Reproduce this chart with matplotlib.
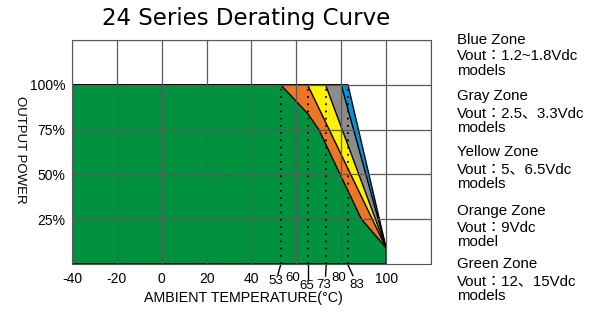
import matplotlib.pyplot as plt

plt.rcParams['font.family'] = ['Liberation Sans', 'Noto Sans CJK JP', 'DejaVu Sans']

# derating boundaries (ambient temp, % output power), from the 100% knee down
green_x = [53, 65, 70, 89, 100]
green_y = [100, 84, 75, 25, 9]
orange_x = [65, 100]
orange_y = [100, 9]
yellow_x = [73, 100]
yellow_y = [100, 9]
gray_x = [80, 100]
gray_y = [100, 9]
blue_x = [83, 100]
blue_y = [100, 9]

marks = [53, 65, 73, 83]
x_ticks = [-40, -20, 0, 20, 40, 60, 80, 100, 120]
x_labels = ['-40', '-20', '0', '20', '40', '', '', '100', '']
y_ticks = [25, 50, 75, 100, 125]
y_labels = ['25%', '50%', '75%', '100%', '']

zones = [
    ("Blue Zone", "Vout：1.2~1.8Vdc", "models"),
    ("Gray Zone", "Vout：2.5、3.3Vdc", "models"),
    ("Yellow Zone", "Vout：5、6.5Vdc", "models"),
    ("Orange Zone", "Vout：9Vdc", "model"),
    ("Green Zone", "Vout：12、15Vdc", "models"),
]

W, H = 597, 316
fig = plt.figure(figsize=(W / 100, H / 100), dpi=100)
ax = fig.add_axes([0.1206, 0.1646, 0.6013, 0.7089])

layers = [
    (blue_x, blue_y, '#0095da'),
    (gray_x, gray_y, '#8c8c8c'),
    (yellow_x, yellow_y, '#fff200'),
    (orange_x, orange_y, '#ee7623'),
    (green_x, green_y, '#00923f'),
]
for bx, by, col in layers:
    xs = [-40, -40] + bx + [bx[-1]]
    ys = [0, 100] + by + [0]
    ax.fill(xs, ys, facecolor=col, edgecolor='black', linewidth=1, zorder=2)

for m in marks:
    ax.plot([m, m], [0, 100], color='black', linestyle=(0, (1, 3)), lw=1.3, zorder=4)

ax.set_xlim(-40, 120)
ax.set_ylim(0, 125)
ax.set_xticks(x_ticks)
ax.set_xticklabels(x_labels, fontsize=10)
ax.set_yticks(y_ticks)
ax.set_yticklabels(y_labels, fontsize=10)
ax.tick_params(length=0, pad=6)
ax.tick_params(axis='y', pad=5)
ax.grid(True, color='#5a5a5a', lw=0.9, zorder=3)
ax.set_axisbelow(False)
for s in ax.spines.values():
    s.set_color('#555555')
    s.set_linewidth(0.8)

# extra temperature labels with leader lines
trans = ax.get_xaxis_transform()
extra = [("53", 50.7, -0.076), ("60", 58.3, -0.0625), ("65", 64.5, -0.098),
         ("73", 72.3, -0.094), ("80", 78.8, -0.0625), ("83", 87.0, -0.094)]
for txt, x, y in extra:
    ax.text(x, y, txt, transform=trans, ha='center', va='center', fontsize=9.5, clip_on=False)
leaders = [(53, 51.8, -0.046), (65, 65, -0.066), (73.3, 73, -0.054), (83, 85.2, -0.052)]
for x0, x1, y1 in leaders:
    ax.plot([x0, x1], [-0.004, y1], transform=trans, color='black', lw=1, clip_on=False)

fig.text(0.412, 0.94, "24 Series Derating Curve", ha='center', va='center',
         fontsize=16.5, family='DejaVu Sans')
fig.text(0.034, 0.525, "OUTPUT POWER", rotation=-90, ha='center', va='center', fontsize=9.5)
fig.text(0.408, 0.057, "AMBIENT TEMPERATURE(°C)", ha='center', va='center', fontsize=10.3)

# zone notes on the right, one line at a time (baselines in pixels from top)
group_base = [43.5, 100, 156.5, 214.5, 268.5]
line_off = [0, 17, 32]
for lines, gb in zip(zones, group_base):
    for txt, off in zip(lines, line_off):
        fig.text(457 / W, 1 - (gb + off) / H, txt, ha='left', va='baseline', fontsize=10.8)

plt.savefig("out.png", dpi=100)
